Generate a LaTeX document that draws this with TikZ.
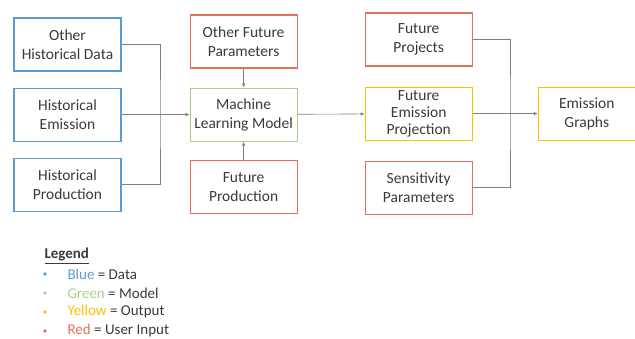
\documentclass[tikz,border=0pt]{standalone}
\usepackage{fontspec}
\setmainfont{Carlito}
\usetikzlibrary{positioning, arrows.meta}

\definecolor{datablue}{HTML}{5B9BD5}
\definecolor{modelgreen}{HTML}{A9D18E}
\definecolor{outyellow}{HTML}{FFC000}
\definecolor{inputred}{HTML}{E2725B}
\definecolor{linegray}{HTML}{808080}
\definecolor{textgray}{HTML}{3A3A3A}

\begin{document}
\begin{tikzpicture}[x=1pt, y=-1pt, node distance={16pt and 68pt}, font=\fontsize{15.5}{19}\selectfont, text=textgray,
  box/.style = {draw, line width=1.1pt, minimum width=107pt, minimum height=53pt, align=center, inner sep=1pt},
  data/.style = {box, draw=datablue},
  model/.style = {box, draw=modelgreen},
  output/.style = {box, draw=outyellow},
  input/.style = {box, draw=inputred},
  link/.style = {draw=linegray, line width=0.6pt},
  arr/.style = {link, -{Latex[length=4pt, width=3.5pt]}},
  dot/.style = {circle, inner sep=1.3pt},
  item/.style = {anchor=west, font=\fontsize{15}{18}\selectfont}]
\useasboundingbox (0,0) rectangle (635,339);

% historical data
\node[data] (ohd) at (67.5,44.5) {Other\\Historical Data};
\node[data] (he) [below=of ohd] {Historical\\Emission};
\node[data] (hp) [below=of he] {Historical\\Production};

% model and its inputs
\node[model] (ml) [right=of he] {Machine\\Learning Model};
\node[input] (ofp) [above=19pt of ml] {Other Future\\Parameters};
\node[input] (fp) [below=18pt of ml] {Future\\Production};

% projection
\node[output, font=\fontsize{15.5}{17}\selectfont] (fep) [right=67pt of ml, yshift=1pt] {Future\\Emission\\Projection};
\node[input] (fpr) [above=20pt of fep] {Future\\Projects};
\node[input] (sp) [below=20pt of fep] {Sensitivity\\Parameters};
\node[output, minimum width=97pt] (eg) [right=65pt of fep] {Emission\\Graphs};

\coordinate (hj) at (160,114);
\coordinate (pj) at (510,113);

\draw[link] (ohd.east) -| (hj) |- (hp.east);
\draw[arr] (he) -- (ml);
\draw[arr] (ofp) -- (ml);
\draw[arr] (fp) -- (ml);
\draw[arr] (ml) -- (fep);
\draw[link] (fpr.east) -| (pj) |- (sp.east);
\draw[arr] (fep) -- (eg);

% legend
\node[item, font=\fontsize{15}{18}\selectfont\bfseries] (legend) at (41,256) {\underline{Legend}};
\node[dot, fill=datablue] (b1) at (45,274) {};
\node[item] (l1) at (64,274) {\textcolor{datablue}{Blue} = Data};
\node[dot, fill=modelgreen] (b2) at (45,293) {};
\node[item] (l2) at (64,293) {\textcolor{modelgreen}{Green} = Model};
\node[dot, fill=outyellow] (b3) at (45,312) {};
\node[item] (l3) at (64,312) {\textcolor{outyellow}{Yellow} = Output};
\node[dot, fill=inputred] (b4) at (45,331) {};
\node[item] (l4) at (64,331) {\textcolor{inputred}{Red} = User Input};
\end{tikzpicture}
\end{document}
